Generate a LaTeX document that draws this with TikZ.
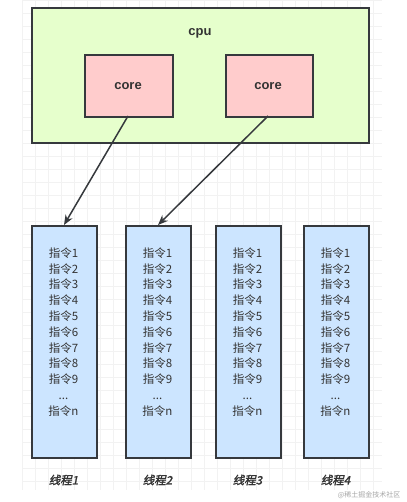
\documentclass[tikz,border=0pt]{standalone}
\usepackage{fontspec}
\setmainfont{Liberation Sans}
\newfontfamily\cjk{Noto Sans CJK SC}
\newfontfamily\cjkbi{Noto Sans CJK SC}[FakeBold=2,FakeSlant=0.2]
\usetikzlibrary{arrows.meta}
\definecolor{cpufill}{HTML}{E6FFCC}
\definecolor{corefill}{HTML}{FFCCCC}
\definecolor{thrfill}{HTML}{CCE5FF}
\definecolor{edge}{HTML}{36393D}
\definecolor{txt}{HTML}{333333}
\tikzset{
  box/.style={draw=edge, line width=1.9pt, inner sep=0pt, anchor=north west},
  boldlbl/.style={font=\fontsize{13}{15}\selectfont\bfseries, text=txt},
  instr/.style={font=\cjk\fontsize{11.5}{15.8}\selectfont, text=txt, align=center, anchor=north},
  thrlbl/.style={font=\cjkbi\fontsize{11.5}{13}\selectfont, text=txt},
  conn/.style={draw=edge, line width=1.5pt, -{Stealth[length=10pt,width=8pt]}},
  gridl/.style={draw=black!5, line width=0.5pt}
}
\begin{document}
\begin{tikzpicture}[x=1pt,y=-1pt]
\useasboundingbox (0,0) rectangle (406,502);
\fill[white] (0,0) rectangle (406,502);
% faint background grid
\foreach \gx in {22,35,...,385} \draw[gridl] (\gx,0) -- (\gx,490);
\foreach \gy in {0,13,...,490} \draw[gridl] (22,\gy) -- (382,\gy);
% cpu
\node[box, fill=cpufill, minimum width=337pt, minimum height=135pt] (cpu) at (31,7) {};
\node[boldlbl] (cpulbl) at (200,33) {cpu};
\node[box, fill=corefill, minimum width=88pt, minimum height=62pt] (core1) at (84,54) {};
\node[boldlbl] (core1lbl) at (128,86) {core};
\node[box, fill=corefill, minimum width=87pt, minimum height=62pt] (core2) at (225,54) {};
\node[boldlbl] (core2lbl) at (268,86) {core};
% threads
\foreach \i/\xl/\xc in {1/31/63.5, 2/125/157.5, 3/215/247.5, 4/303/335.5} {
  \node[box, fill=thrfill, minimum width=65pt, minimum height=232pt] (t\i) at (\xl,225) {};
  \node[instr] (t\i txt) at (\xc,244) {指令1\\指令2\\指令3\\指令4\\指令5\\指令6\\指令7\\指令8\\指令9\\...\\指令n};
  \node[thrlbl] (t\i lbl) at (\xc,480) {线程\i};
}
% connectors
\coordinate (c1s) at (128,116);
\coordinate (c2s) at (268,116);
\coordinate (t1e) at (64,225);
\coordinate (t2e) at (158,225);
\draw[conn] (c1s) -- (t1e);
\draw[conn] (c2s) -- (t2e);
% watermark
\node[font=\cjk\fontsize{7}{8}\selectfont, text=black!35, anchor=east] (wm) at (404,495) {@稀土掘金技术社区};
\end{tikzpicture}
\end{document}
